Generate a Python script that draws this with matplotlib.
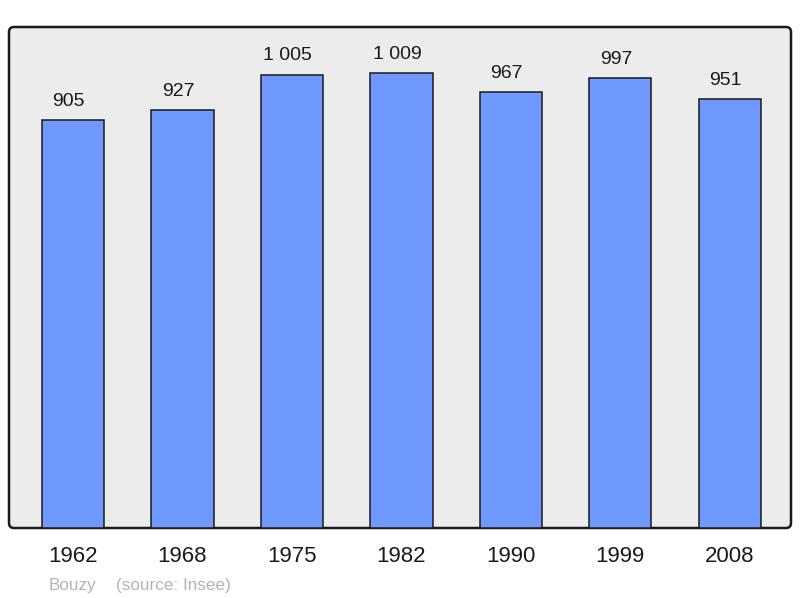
import matplotlib.pyplot as plt
from matplotlib.patches import FancyBboxPatch

plt.rcParams['font.family'] = ['Liberation Sans', 'DejaVu Sans']

years = ["1962", "1968", "1975", "1982", "1990", "1999", "2008"]
population = [905, 927, 1005, 1009, 967, 997, 951]
labels = ["905", "927", "1 005", "1 009", "967", "997", "951"]

W, H = 800, 598
fig = plt.figure(figsize=(W / 100, H / 100), dpi=100)

# axes box in pixels
x0, x1, y0, y1 = 9, 791, 27, 528
ax = fig.add_axes([x0 / W, 1 - y1 / H, (x1 - x0) / W, (y1 - y0) / H])
ax.set_facecolor('none')
ax.set_zorder(2)

# rounded grey frame
frame = FancyBboxPatch((x0, H - y1), x1 - x0, y1 - y0,
                       boxstyle="round,pad=0,rounding_size=5",
                       transform=None, facecolor='#ececec',
                       edgecolor='#1a1a1a', linewidth=1.8, zorder=0)
fig.patches.append(frame)

pos = list(range(len(years)))
ax.bar(pos, population, width=0.57, color='#7099ff',
       edgecolor='#1a1a1a', linewidth=1.1, zorder=2)

for p, v, t in zip(pos, population, labels):
    ax.annotate(t, (p, v), xytext=(-3.2, 10.3), textcoords='offset points',
                ha='center', va='baseline', fontsize=14, color='#1a1a1a')

ax.set_xlim(-0.585, 6.56)
ax.set_ylim(0, 1111)
for s in ax.spines.values():
    s.set_visible(False)
ax.set_yticks([])
ax.set_xticks(pos)
ax.set_xticklabels(years, fontsize=16, color='#1a1a1a')
ax.tick_params(axis='x', length=0, pad=13)

fig.text(49 / W, 1 - 590 / H, "Bouzy", fontsize=12.3, color='#b4b4b4',
         ha='left', va='baseline')
fig.text(116 / W, 1 - 590 / H, "(source: Insee)", fontsize=12.3, color='#b4b4b4',
         ha='left', va='baseline')

fig.savefig("out.png", dpi=100)
